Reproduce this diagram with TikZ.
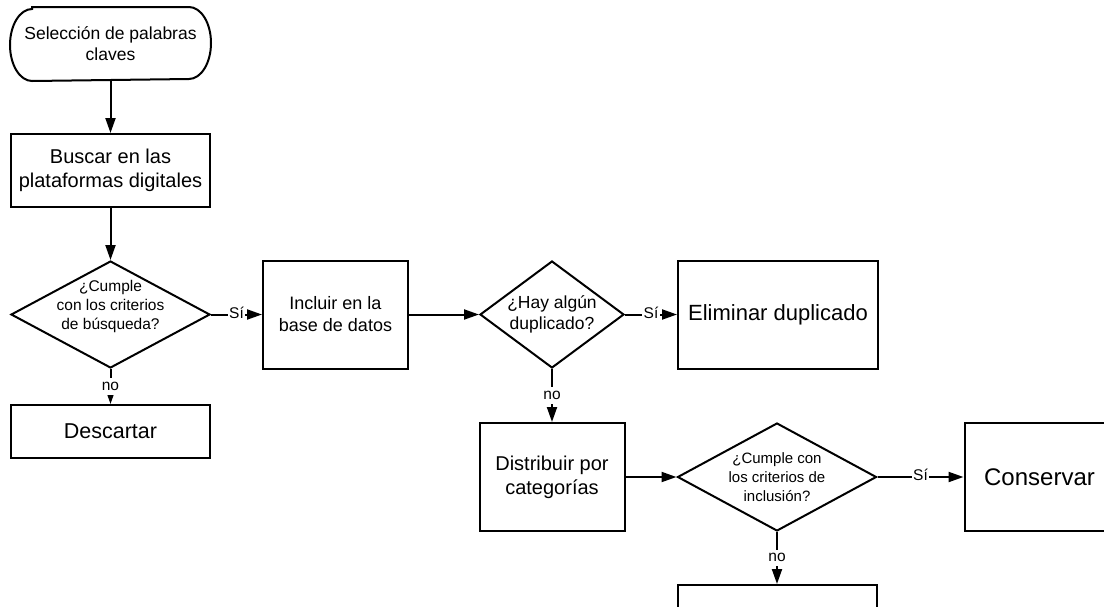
\documentclass[tikz,border=0pt]{standalone}
\usepackage{fontspec}
\setmainfont{Liberation Sans}
\usetikzlibrary{shapes.geometric,arrows.meta}

\begin{document}
\begin{tikzpicture}[x=1pt,y=1pt,line width=2pt,node distance=225pt]
    \tikzstyle{terminal}=[rectangle,minimum width=199pt,minimum height=72pt,align=center,inner sep=0pt]
    \tikzstyle{caja}=[rectangle,draw,minimum width=145pt,minimum height=108pt,align=center,inner sep=2pt]
    \tikzstyle{caja ancha}=[caja,minimum width=199pt]
    \tikzstyle{decision}=[diamond,draw,minimum width=199pt,minimum height=107pt,inner sep=0pt]
    \tikzstyle{texto}=[align=center,font=\fontsize{15.5}{19}\selectfont]
    \tikzstyle{flecha}=[-{Triangle[length=15pt,width=10pt]}]
    \tikzstyle{etiqueta}=[fill=white,inner sep=1.5pt,text height=2ex,text depth=0.6ex,font=\fontsize{15.5}{18}\selectfont]

    % Fix the frame of the picture
    \useasboundingbox (0,0) rectangle (1104,-606);
    \clip (0,0) rectangle (1104,-606);

    % Draw the first column
    \node[terminal, font=\fontsize{17.5}{21}\selectfont] (inicio) at (110.5,-44) {Selección de palabras\\claves};
    \draw ([xshift=22pt]inicio.north west) -- ([xshift=-22pt]inicio.north east)
        arc[start angle=90, end angle=-90, x radius=22pt, y radius=36pt]
        -- ([xshift=22pt]inicio.south west)
        arc[start angle=270, end angle=90, x radius=22pt, y radius=36pt] -- cycle;
    \node[caja ancha, minimum height=73pt, font=\fontsize{20}{24}\selectfont, below of=inicio, node distance=126.5pt] (buscar) {Buscar en las\\plataformas digitales};
    \node[decision, label={[texto,yshift=8pt]center:¿Cumple\\con los criterios\\de búsqueda?}, below of=buscar, node distance=144pt] (cumple1) {};
    \node[caja ancha, minimum height=53pt, font=\fontsize{21.5}{25}\selectfont, below of=cumple1, node distance=117pt] (descartar) {Descartar};

    % Draw the second row
    \node[caja, font=\fontsize{18}{22}\selectfont, right of=cumple1] (incluir) {Incluir en la\\base de datos};
    \node[decision, minimum width=144pt, label={[texto,font=\fontsize{17.5}{21}\selectfont]center:¿Hay algún\\duplicado?}, right of=incluir, node distance=216.5pt] (duplicado) {};
    \node[caja, minimum width=200pt, font=\fontsize{22}{26}\selectfont, right of=duplicado, node distance=226pt] (eliminar) {Eliminar duplicado};

    % Draw the third row
    \node[caja, font=\fontsize{20}{24}\selectfont, below of=duplicado, node distance=162.5pt] (distribuir) {Distribuir por\\categorías};
    \node[decision, minimum height=108pt, label={[texto,font=\fontsize{15}{19}\selectfont]center:¿Cumple con\\los criterios de\\inclusión?}, right of=distribuir] (cumple2) {};
    \node[caja, minimum width=150pt, font=\fontsize{24}{28}\selectfont, right of=cumple2, node distance=262.5pt] (conservar) {Conservar};
    \node[caja ancha, minimum height=53pt, below of=cumple2, node distance=134.5pt] (excluir) {};

    % Connect the steps
    \foreach \desde/\hasta in {inicio/buscar, buscar/cumple1, incluir/duplicado, distribuir/cumple2}
        \draw[flecha] (\desde) -- (\hasta);
    \foreach \desde/\hasta in {cumple1/incluir, duplicado/eliminar, cumple2/conservar}
        \draw[flecha] (\desde.east) -- node[etiqueta] {Sí} (\hasta);
    \foreach \desde/\hasta in {cumple1/descartar, duplicado/distribuir, cumple2/excluir}
        \draw[flecha] (\desde.south) -- node[etiqueta] {no} (\hasta);
\end{tikzpicture}
\end{document}
